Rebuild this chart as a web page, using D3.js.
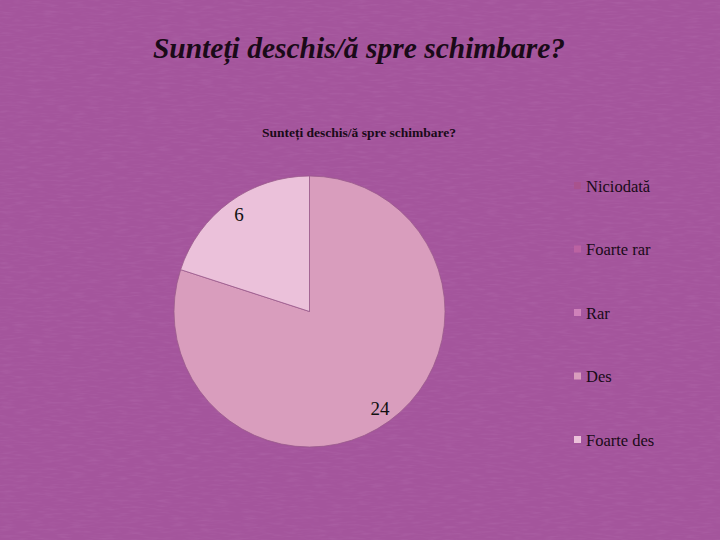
<!DOCTYPE html>
<html><head><meta charset="utf-8">
<script src="https://cdn.jsdelivr.net/npm/d3@7/dist/d3.min.js"></script>
<style>html,body{margin:0;padding:0;background:#a4559c;}</style>
</head><body>
<script>
const title = "Sunteți deschis/ă spre schimbare?";
const chartTitle = "Sunteți deschis/ă spre schimbare?";
const categories = ["Niciodată", "Foarte rar", "Rar", "Des", "Foarte des"];
const values = [0, 0, 0, 24, 6];
const colors = ["#a9528e", "#bb62a2", "#cf82ba", "#d99dbd", "#ebc1da"];

const W = 720, H = 540;
const svg = d3.select("body").append("svg").attr("width", W).attr("height", H);

const defs = svg.append("defs");
const f = defs.append("filter").attr("id","tex").attr("x",0).attr("y",0).attr("width","100%").attr("height","100%");
f.append("feTurbulence").attr("type","fractalNoise").attr("baseFrequency","0.07 0.45").attr("numOctaves",2).attr("seed",3).attr("result","n");
f.append("feColorMatrix").attr("in","n").attr("type","matrix")
  .attr("values","0 0 0 0 0.45  0 0 0 0 0.15  0 0 0 0 0.42  0 0 0 -1.8 1.0");

svg.append("rect").attr("width",W).attr("height",H).attr("fill","#a4559c");
svg.append("rect").attr("width",W).attr("height",H).attr("fill","#fff").attr("filter","url(#tex)").attr("opacity",0.45);

svg.append("text").attr("x", 359).attr("y", 58).attr("text-anchor","middle")
  .attr("font-family","Liberation Serif, serif").attr("font-style","italic").attr("font-weight","bold")
  .attr("font-size", 29.5).attr("fill","#1a0a18").text(title);

svg.append("text").attr("x", 359).attr("y", 137).attr("text-anchor","middle")
  .attr("font-family","Liberation Serif, serif").attr("font-weight","bold")
  .attr("font-size", 13.5).attr("fill","#1a0a18").text(chartTitle);

const cx = 309.5, cy = 311.5, r = 135.5;
const data = categories.map((c,i)=>({cat:c, value:values[i], color:colors[i]}));
const pie = d3.pie().value(d=>d.value).sort(null);
const arc = d3.arc().innerRadius(0).outerRadius(r);
const labelArc = d3.arc().innerRadius(120).outerRadius(120);
const g = svg.append("g").attr("transform",`translate(${cx},${cy})`);
const arcs = pie(data).filter(d=>d.data.value>0);
g.selectAll("path").data(arcs).enter().append("path")
  .attr("d", arc).attr("fill", d=>d.data.color)
  .attr("stroke","#9a5a8c").attr("stroke-width",0.8);
g.selectAll("text").data(arcs).enter().append("text")
  .attr("transform", d=>`translate(${labelArc.centroid(d)})`)
  .attr("text-anchor","middle").attr("dy","0.35em")
  .attr("font-family","Liberation Serif, serif").attr("font-size",19).attr("fill","#111")
  .text(d=>d.data.value);

const ly = d3.scalePoint().domain(categories).range([186, 440]);
const lg = svg.append("g");
categories.forEach((c,i)=>{
  lg.append("rect").attr("x",574).attr("y",ly(c)-4).attr("width",7).attr("height",7).attr("fill",colors[i]);
  lg.append("text").attr("x",586).attr("y",ly(c)).attr("dy","0.35em")
    .attr("font-family","Liberation Serif, serif").attr("font-size",16.5).attr("fill","#1a0a18").text(c);
});
</script>
</body></html>
